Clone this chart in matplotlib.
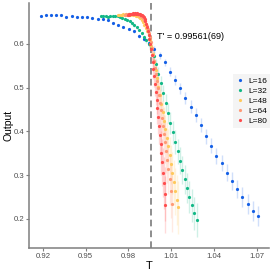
import matplotlib
matplotlib.use("Agg")
import matplotlib.pyplot as plt

plt.rcParams['font.family'] = ['Liberation Sans', 'DejaVu Sans']

labels = ["L=16", "L=32", "L=48", "L=64", "L=80"]
colors = ["#1560e6", "#12b886", "#ffc95c", "#ff9a76", "#ff4d4d"]

T16 = [0.9184, 0.9220, 0.9257, 0.9293, 0.9329, 0.9365, 0.9402, 0.9438, 0.9474, 0.9510,
       0.9547, 0.9583, 0.9619, 0.9656, 0.9692, 0.9728, 0.9764, 0.9801, 0.9837, 0.9873,
       0.9909, 0.9946, 0.9982, 1.0018, 1.0054, 1.0091, 1.0127, 1.0163, 1.0200, 1.0236,
       1.0272, 1.0308, 1.0345, 1.0381, 1.0417, 1.0453, 1.0490, 1.0526, 1.0562, 1.0598,
       1.0635, 1.0671, 1.0707]
Y16 = [0.6633, 0.6670, 0.6656, 0.6656, 0.6656, 0.6624, 0.6640, 0.6624, 0.6610, 0.6610,
       0.6587, 0.6565, 0.6569, 0.6537, 0.6487, 0.6441, 0.6389, 0.6343, 0.6290, 0.6183,
       0.6121, 0.6023, 0.5875, 0.5737, 0.5577, 0.5367, 0.5177, 0.4988, 0.4761, 0.4565,
       0.4371, 0.4156, 0.3893, 0.3676, 0.3440, 0.3280, 0.3058, 0.2862, 0.2686, 0.2503,
       0.2343, 0.2176, 0.2069]
E16 = [0.001, 0.001, 0.001, 0.001, 0.001, 0.001, 0.001, 0.001, 0.001, 0.001,
       0.001, 0.001, 0.001, 0.001, 0.002, 0.002, 0.002, 0.002, 0.003, 0.004,
       0.005, 0.006, 0.007, 0.008, 0.009, 0.010, 0.012, 0.013, 0.014, 0.015,
       0.016, 0.016, 0.017, 0.018, 0.019, 0.019, 0.020, 0.020, 0.021, 0.022,
       0.022, 0.023, 0.023]

T32 = [0.9606, 0.9623, 0.9640, 0.9656, 0.9673, 0.9690, 0.9707, 0.9724, 0.9740, 0.9757,
       0.9774, 0.9791, 0.9808, 0.9824, 0.9841, 0.9858, 0.9875, 0.9892, 0.9908, 0.9925,
       0.9942, 0.9959, 0.9976, 0.9992, 1.0009, 1.0026, 1.0043, 1.0060, 1.0076, 1.0093,
       1.0110, 1.0127, 1.0144, 1.0160, 1.0177, 1.0194, 1.0211, 1.0228, 1.0244, 1.0261,
       1.0278]
Y32 = [0.6640, 0.6645, 0.6635, 0.6624, 0.6633, 0.6629, 0.6633, 0.6629, 0.6613, 0.6595,
       0.6572, 0.6549, 0.6515, 0.6469, 0.6428, 0.6382, 0.6320, 0.6240, 0.6160, 0.6080,
       0.6000, 0.5897, 0.5726, 0.5532, 0.5315, 0.5097, 0.4880, 0.4652, 0.4423, 0.4195,
       0.3977, 0.3760, 0.3543, 0.3326, 0.3109, 0.2903, 0.2709, 0.2503, 0.2309, 0.2126,
       0.1977]
E32 = [0.002, 0.002, 0.002, 0.002, 0.002, 0.002, 0.002, 0.002, 0.002, 0.002,
       0.002, 0.002, 0.002, 0.003, 0.003, 0.003, 0.003, 0.004, 0.005, 0.006,
       0.007, 0.009, 0.011, 0.013, 0.015, 0.017, 0.019, 0.021, 0.023, 0.025,
       0.026, 0.028, 0.029, 0.031, 0.032, 0.033, 0.035, 0.036, 0.037, 0.038,
       0.039]

T48 = [0.9726, 0.9736, 0.9746, 0.9755, 0.9765, 0.9775, 0.9785, 0.9795, 0.9804, 0.9814,
       0.9824, 0.9834, 0.9844, 0.9853, 0.9863, 0.9873, 0.9883, 0.9893, 0.9902, 0.9912,
       0.9922, 0.9932, 0.9942, 0.9951, 0.9961, 0.9971, 0.9981, 0.9991, 1.0000, 1.0010,
       1.0020, 1.0030, 1.0040, 1.0049, 1.0059, 1.0069, 1.0079, 1.0089, 1.0098, 1.0108,
       1.0118, 1.0128, 1.0138, 1.0147]
Y48 = [0.6652, 0.6656, 0.6659, 0.6663, 0.6675, 0.6663, 0.6679, 0.6668, 0.6681, 0.6672,
       0.6677, 0.6663, 0.6659, 0.6645, 0.6629, 0.6611, 0.6583, 0.6549, 0.6503, 0.6435,
       0.6366, 0.6286, 0.6195, 0.6080, 0.5943, 0.5772, 0.5589, 0.5406, 0.5212, 0.5017,
       0.4823, 0.4629, 0.4434, 0.4240, 0.4046, 0.3852, 0.3657, 0.3452, 0.3246, 0.3040,
       0.2834, 0.2629, 0.2435, 0.2263]
E48 = [0.002, 0.002, 0.002, 0.002, 0.002, 0.002, 0.002, 0.002, 0.002, 0.002,
       0.002, 0.002, 0.002, 0.002, 0.002, 0.003, 0.003, 0.003, 0.003, 0.004,
       0.005, 0.006, 0.008, 0.010, 0.012, 0.014, 0.016, 0.018, 0.020, 0.022,
       0.024, 0.027, 0.029, 0.032, 0.034, 0.037, 0.039, 0.042, 0.045, 0.048,
       0.051, 0.054, 0.057, 0.060]

T64 = [0.9778, 0.9785, 0.9792, 0.9800, 0.9807, 0.9814, 0.9821, 0.9828, 0.9836, 0.9843,
       0.9850, 0.9857, 0.9864, 0.9872, 0.9879, 0.9886, 0.9893, 0.9900, 0.9908, 0.9915,
       0.9922, 0.9929, 0.9936, 0.9944, 0.9951, 0.9958, 0.9965, 0.9972, 0.9980, 0.9987,
       0.9994, 1.0001, 1.0008, 1.0016, 1.0023, 1.0030, 1.0037, 1.0044, 1.0052, 1.0059,
       1.0066, 1.0073, 1.0080, 1.0088, 1.0095, 1.0102]
Y64 = [0.6663, 0.6675, 0.6668, 0.6681, 0.6686, 0.6677, 0.6690, 0.6681, 0.6695, 0.6686,
       0.6690, 0.6679, 0.6675, 0.6663, 0.6649, 0.6633, 0.6613, 0.6590, 0.6553, 0.6515,
       0.6462, 0.6400, 0.6332, 0.6252, 0.6149, 0.6034, 0.5897, 0.5749, 0.5600, 0.5452,
       0.5303, 0.5143, 0.4983, 0.4823, 0.4652, 0.4480, 0.4309, 0.4126, 0.3943, 0.3749,
       0.3554, 0.3349, 0.3132, 0.2903, 0.2640, 0.2343]
E64 = [0.002, 0.002, 0.002, 0.002, 0.002, 0.002, 0.002, 0.002, 0.002, 0.002,
       0.002, 0.002, 0.002, 0.002, 0.002, 0.002, 0.003, 0.003, 0.003, 0.003,
       0.004, 0.005, 0.006, 0.008, 0.010, 0.012, 0.014, 0.016, 0.018, 0.020,
       0.022, 0.025, 0.027, 0.030, 0.032, 0.035, 0.038, 0.041, 0.044, 0.047,
       0.050, 0.053, 0.056, 0.059, 0.062, 0.065]

T80 = [0.9796, 0.9802, 0.9807, 0.9813, 0.9818, 0.9824, 0.9830, 0.9835, 0.9841, 0.9846,
       0.9852, 0.9858, 0.9863, 0.9869, 0.9874, 0.9880, 0.9886, 0.9891, 0.9897, 0.9902,
       0.9908, 0.9914, 0.9919, 0.9925, 0.9930, 0.9936, 0.9942, 0.9947, 0.9953, 0.9958,
       0.9964, 0.9970, 0.9975, 0.9981, 0.9986, 0.9992, 0.9998, 1.0003, 1.0009, 1.0014,
       1.0020, 1.0026, 1.0031, 1.0037, 1.0042, 1.0048, 1.0054, 1.0059]
Y80 = [0.666, 0.668, 0.667, 0.669, 0.669, 0.668, 0.670, 0.669, 0.669, 0.670,
       0.669, 0.670, 0.669, 0.669, 0.668, 0.668, 0.667, 0.667, 0.6665, 0.6645,
       0.6615, 0.6575, 0.6520, 0.6455, 0.6377, 0.6297, 0.6206, 0.6103, 0.6000, 0.5875,
       0.5737, 0.5589, 0.5429, 0.5257, 0.5086, 0.4903, 0.4720, 0.4526, 0.4332, 0.4126,
       0.3920, 0.3715, 0.3509, 0.3292, 0.3052, 0.2823, 0.2572, 0.2320]
E80 = [0.002, 0.002, 0.002, 0.002, 0.002, 0.002, 0.002, 0.002, 0.002, 0.002,
       0.002, 0.002, 0.002, 0.002, 0.002, 0.002, 0.002, 0.002, 0.003, 0.003,
       0.003, 0.004, 0.005, 0.006, 0.007, 0.008, 0.010, 0.012, 0.014, 0.016,
       0.018, 0.020, 0.022, 0.025, 0.027, 0.030, 0.032, 0.035, 0.038, 0.041,
       0.044, 0.047, 0.050, 0.053, 0.056, 0.059, 0.062, 0.065]

T_crit = 0.99561
crit_label = "T' = 0.99561(69)"
xticks = [0.92, 0.95, 0.98, 1.01, 1.04, 1.07]
yticks = [0.2, 0.3, 0.4, 0.5, 0.6]

series = [(T16, Y16, E16), (T32, Y32, E32), (T48, Y48, E48), (T64, Y64, E64), (T80, Y80, E80)]

fig = plt.figure(figsize=(2.73, 2.73), dpi=100)
ax = fig.add_axes([0.106, 0.092, 0.879, 0.897])

for (T, Y, E), c, lab in zip(series, colors, labels):
    ax.errorbar(T, Y, yerr=E, fmt='none', ecolor=c, alpha=0.2, elinewidth=1.0, capsize=0, zorder=2)
    ax.plot(T, Y, 'o', color=c, ms=2.3, mew=0, label=lab, zorder=3)

ax.axvline(T_crit, color='#7a7a7a', ls=(0, (4, 2.5)), lw=1.2, zorder=1)
ax.text(0.9999, 0.618, crit_label, fontsize=6.6, color='black', va='center', ha='left')

ax.set_xlim(0.9102, 1.0785)
ax.set_ylim(0.1337, 0.6937)
ax.set_xticks(xticks)
ax.set_xticklabels([f"{v:.2f}" for v in xticks])
ax.set_yticks(yticks)
ax.set_yticklabels([f"{v:.1f}" for v in yticks])
ax.tick_params(axis='both', colors='#7f7f7f', labelcolor='#4d4d4d', labelsize=5.6, length=2, width=0.8, pad=1.5)

for s in ['top', 'right']:
    ax.spines[s].set_visible(False)
for s in ['left', 'bottom']:
    ax.spines[s].set_color('#7f7f7f')
    ax.spines[s].set_linewidth(1.1)

ax.set_xlabel("T", fontsize=8)
ax.set_ylabel("Output", fontsize=7.5)
ax.xaxis.set_label_coords(0.5, -0.055)
ax.yaxis.set_label_coords(-0.066, 0.5)

leg = ax.legend(loc='upper left', bbox_to_anchor=(0.85, 0.71), fontsize=6, frameon=True,
                handlelength=0.8, handletextpad=0.6, borderpad=0.4, labelspacing=0.25,
                markerscale=1.0, borderaxespad=0)
leg.get_frame().set_facecolor('#f2f2f2')
leg.get_frame().set_edgecolor('none')
leg.get_frame().set_boxstyle('square', pad=0)

fig.savefig("out.png", dpi=100)
